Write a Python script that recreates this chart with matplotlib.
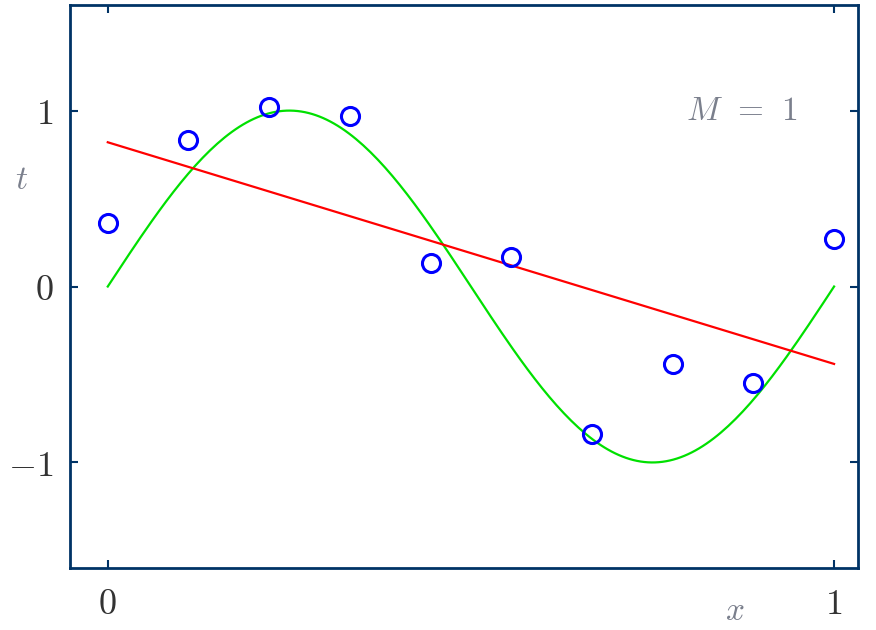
import matplotlib
matplotlib.use("Agg")
import matplotlib.pyplot as plt
import numpy as np

x_obs = [0.0, 1/9, 2/9, 3/9, 4/9, 5/9, 6/9, 7/9, 8/9, 1.0]
t_obs = [0.36, 0.835, 1.02, 0.97, 0.136, 0.17, -0.84, -0.44, -0.55, 0.27]

# fitted M=1 polynomial (end points)
fit_x = [0.0, 1.0]
fit_y = [0.82, -0.44]

# underlying function sin(2*pi*x)
curve_x = np.linspace(0, 1, 200)
curve_y = np.sin(2 * np.pi * curve_x)

plt.rcParams["mathtext.fontset"] = "cm"
plt.rcParams["font.family"] = "serif"
plt.rcParams["font.serif"] = ["DejaVu Serif"]

spine_col = "#003366"
label_col = "#7a7f8c"

fig = plt.figure(figsize=(8.76, 6.3), dpi=100)
ax = fig.add_axes([0.0799, 0.0984, 0.8996, 0.8936])

ax.plot(curve_x, curve_y, color="#00e000", lw=1.6, zorder=2)
ax.plot(fit_x, fit_y, color="#ff0000", lw=1.6, zorder=3)
ax.plot(x_obs, t_obs, "o", ms=13, mfc="none", mec="#0000ff", mew=2.2, zorder=4)

ax.set_xlim(-0.052, 1.033)
ax.set_ylim(-1.60, 1.60)
ax.set_xticks([0, 1])
ax.set_yticks([-1, 0, 1])
ax.set_xticklabels([r"$0$", r"$1$"])
ax.set_yticklabels([r"$-1$", r"$0$", r"$1$"])
ax.tick_params(direction="in", length=6, width=1.5, color=spine_col,
               labelsize=26, labelcolor="#333333", top=True, right=True)
ax.tick_params(axis="x", pad=14)
ax.tick_params(axis="y", pad=12)
for s in ax.spines.values():
    s.set_color(spine_col)
    s.set_linewidth(2)

fig.text(22 / 876, 1 - 180 / 630, r"$t$", fontsize=24, color=label_col,
         ha="center", va="center")
fig.text(735 / 876, 1 - 611 / 630, r"$x$", fontsize=24, color=label_col,
         ha="center", va="center")
ax.text(0.873, 1.0, r"$M\;\,=\;\,1$", fontsize=24, color=label_col,
        ha="center", va="center")

fig.savefig("out.png", dpi=100)
